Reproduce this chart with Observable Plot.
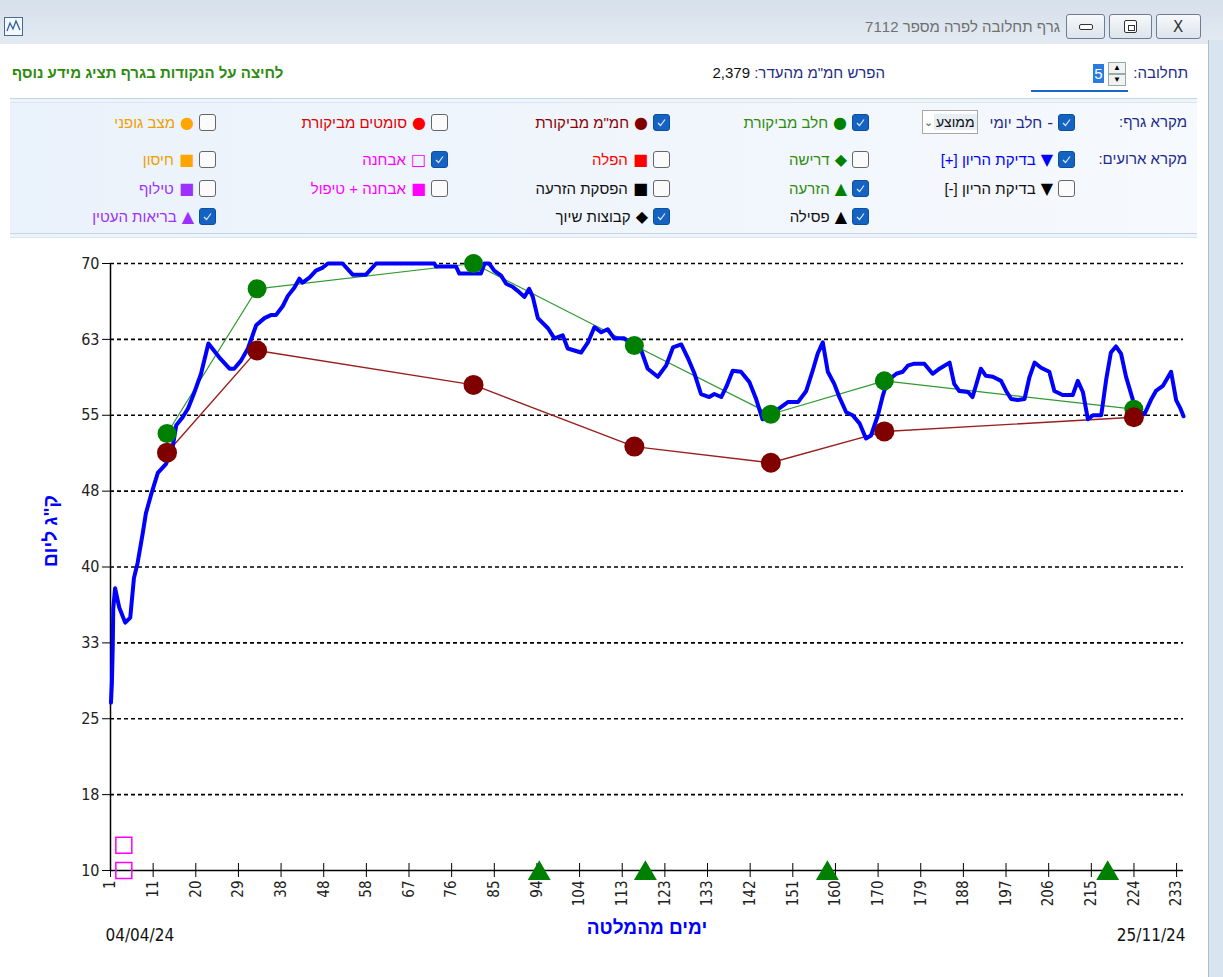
<!DOCTYPE html>
<html lang="he"><head><meta charset="utf-8">
<script src="https://cdn.jsdelivr.net/npm/d3@7"></script>
<script src="https://cdn.jsdelivr.net/npm/@observablehq/plot@0.6"></script>
<style>
body{margin:0;width:1223px;height:977px;position:relative;overflow:hidden;background:#fff;font-family:"Liberation Sans",Arial,sans-serif;}
.abs{position:absolute;white-space:nowrap;}
#titlebar{left:0;top:0;width:1223px;height:44px;background:linear-gradient(#d6e0eb,#e3eaf2);}
#rightframe{left:1208px;top:40px;width:15px;height:937px;background:#d8e4f0;border-left:1px solid #aebccb;}
.wbtn{top:14px;height:25px;border:1px solid #6e7d90;border-radius:3px;background:linear-gradient(#f7f9fb,#dde4ec);box-sizing:border-box;}
.sep{left:10px;width:1187px;height:3px;border-top:1px solid #c4d6ea;border-bottom:1px solid #d9e6f4;background:#eef4fa;}
#panel{left:10px;top:103px;width:1187px;height:131px;background:linear-gradient(90deg,#eaf2fb,#f6f9fd);}
.item{display:flex;flex-direction:row;direction:rtl;align-items:center;font-size:15px;height:20px;}
.cb{width:17px;height:17px;border-radius:3px;box-sizing:border-box;margin-left:5px;display:flex;align-items:center;justify-content:center;}
.cb.on{background:#1463c2;border:1px solid #0c4f9e;}
.cb.off{background:#fbfbfb;border:1px solid #666;}
.sym{font-family:"DejaVu Sans",sans-serif;font-size:16px;margin-left:5px;}
.lbl{font-size:15px;color:#1c2b8a;direction:rtl;}
</style></head>
<body>
<div id="titlebar" class="abs"></div>
<div class="abs" style="left:4px;top:17px;width:19px;height:19px;border:1px solid #4a6b8f;background:#f4f8fc;box-sizing:border-box;">
  <svg width="17" height="17"><polyline points="2,13 5,5 8,11 11,3 15,12" fill="none" stroke="#2d5fa0" stroke-width="1.3"/></svg>
</div>
<div class="abs" style="right:163px;top:18px;font-size:15px;color:#707070;direction:rtl;">גרף תחלובה לפרה מספר 7112</div>
<div class="abs wbtn" style="left:1066px;width:39px;"><div class="abs" style="left:12px;top:9px;width:14px;height:6px;border:1px solid #333;border-radius:2px;box-sizing:border-box;background:#fff;"></div></div>
<div class="abs wbtn" style="left:1109px;width:43px;"><div class="abs" style="left:14px;top:5px;width:13px;height:13px;border:1px solid #333;border-radius:2px;box-sizing:border-box;background:#fff;"><div class="abs" style="left:3px;top:4px;width:5px;height:4px;border:1px solid #333;"></div></div></div>
<div class="abs wbtn" style="left:1156px;width:45px;"><div class="abs" style="left:16px;top:3px;font-size:15px;color:#333;font-family:'DejaVu Sans',sans-serif;">X</div></div>
<div id="rightframe" class="abs"></div>

<div class="abs lbl" style="right:35px;top:64px;">תחלובה:</div>
<div class="abs" style="left:1031px;top:57px;width:97px;height:35px;background:#fff;border-bottom:2px solid #1d67c4;box-sizing:border-box;">
  <div class="abs" style="left:62px;top:7px;width:11px;height:19px;background:#2a7be0;color:#fff;font-size:15px;line-height:19px;text-align:center;">5</div>
  <div class="abs" style="left:77px;top:5px;width:18px;height:12px;border:1px solid #9aa;box-sizing:border-box;font-size:8px;line-height:10px;text-align:center;background:#f2f2f2;">▲</div>
  <div class="abs" style="left:77px;top:17px;width:18px;height:12px;border:1px solid #9aa;box-sizing:border-box;font-size:8px;line-height:10px;text-align:center;background:#f2f2f2;">▼</div>
</div>
<div class="abs" style="right:338px;top:64px;direction:rtl;font-size:15px;"><span class="lbl">הפרש חמ"מ מהעדר:</span> <span style="color:#111;">2,379</span></div>
<div class="abs" style="left:12px;top:64px;font-size:15px;font-weight:bold;color:#2e8b10;direction:rtl;">לחיצה על הנקודות בגרף תציג מידע נוסף</div>

<div class="abs sep" style="top:98px;"></div>
<div id="panel" class="abs"></div>
<div class="abs sep" style="top:233px;"></div>
<div id="legend"></div>
<div id="chart" class="abs" style="left:0;top:240px;"></div>

<script>
// ---------------- data ----------------
const dailyDay = [1.1,1.3,1.5,1.6,2.0,2.9,4.2,5.3,6.1,6.9,8.0,8.7,9.8,11.3,13.1,14.5,15.3,16.7,17.9,19.2,
  20.7,22.3,24.7,26.9,27.9,29.4,30.9,32.7,34.5,35.9,37.0,38.5,39.6,41.0,42.1,42.8,44.3,45.7,47.2,48.3,
  51.5,53.7,56.6,58.8,71.5,71.8,76.2,76.9,81.6,82.4,83.4,84.5,86.0,87.1,88.5,89.6,91.1,92.1,92.9,94.0,
  96.2,97.6,99.4,100.5,103.4,104.9,106.3,107.8,109.2,110.6,112.8,115.0,116.5,117.9,120.1,121.9,123.4,125.2,126.6,128.1,
  129.5,131.3,132.4,133.9,135.0,136.4,138.2,140.0,141.5,142.9,144.7,146.9,148.4,150.6,152.4,153.8,154.9,156.0,157.1,158.5,
  159.6,161.1,162.5,164.0,165.4,166.5,168.0,169.1,170.1,172.0,173.4,174.5,175.9,178.1,179.9,181.4,183.6,184.6,185.7,187.6,
  188.6,190.4,191.5,193.0,194.8,195.9,197.0,198.4,199.9,201.0,202.1,203.5,205.3,206.4,208.2,210.4,211.5,212.6,213.7,214.8,
  216.6,217.7,218.7,219.8,220.9,222.0,223.5,224.6,226.0,227.4,228.5,230.0,231.8,232.9,233.9,234.5];
const dailyMilk = [26.6,28.5,32.4,35.9,37.9,36.0,34.5,35.0,38.9,40.4,43.3,45.3,47.1,49.3,50.2,51.8,54.0,54.8,55.7,57.2,
  59.1,62.1,60.7,59.6,59.6,60.4,61.6,63.9,64.6,64.9,64.9,65.8,66.8,67.6,68.5,68.1,68.6,69.3,69.6,70.0,
  70.0,68.9,68.9,70.0,70.0,69.7,69.7,69.0,69.0,70.0,70.0,69.3,68.8,68.0,67.7,67.3,66.7,67.5,66.7,64.6,
  63.6,62.6,62.9,61.6,61.2,62.2,63.7,63.2,63.5,62.6,62.6,61.9,61.4,59.6,58.8,59.9,61.7,62.0,60.7,59.1,
  57.1,56.8,57.1,56.8,57.8,59.4,59.3,58.3,56.6,54.6,55.1,55.8,56.3,56.3,57.4,59.4,61.1,62.2,59.3,58.1,
  56.8,55.3,55.0,54.2,52.7,53.0,55.0,57.0,58.4,59.1,59.3,59.9,60.1,60.1,59.1,59.6,60.2,58.1,57.4,57.3,
  56.8,59.6,58.9,58.8,58.4,57.4,56.6,56.5,56.6,58.8,60.2,59.7,59.3,57.4,57.0,57.0,58.4,57.3,54.6,55.0,
  55.0,58.6,61.2,61.8,61.1,58.8,56.5,55.5,55.1,56.5,57.4,57.9,59.3,56.5,55.6,54.9];

const controlDay  = [13.3, 32.9, 80.0, 115.0, 144.7, 169.4, 223.7];
const controlMilk = [53.2, 67.5, 70.0, 61.9, 55.1, 58.4, 55.6];
const controlEcm  = [51.3, 61.4, 58.0, 51.9, 50.3, 53.4, 54.8];

const diagnosisDay = [3.9, 3.9];
const diagnosisY   = [10.0, 12.5];
const inseminationDay = [94.3, 117.4, 157.0, 218.0];

const xTickLabels = [1,11,20,29,38,48,58,67,76,85,94,104,113,123,133,142,151,160,170,179,188,197,206,215,224,233];
const yTicks = [10,17.5,25,32.5,40,47.5,55,62.5,70];
const yTickLabels = ["10","18","25","33","40","48","55","63","70"];

const yLabel = 'ק"ג ליום';
const xLabel = "ימים מהמלטה";
const startDate = "04/04/24";
const endDate = "25/11/24";

// legend items: col 0..4 (right to left), row 0..3
const legendItems = [
  {col:0,row:0,on:true, sym:"-", label:"חלב יומי", color:"#1c2b8a", symColor:"#1c2b8a", select:"ממוצע"},
  {col:1,row:0,on:true, sym:"●", label:"חלב מביקורת", color:"#2e8b10", symColor:"#008000"},
  {col:2,row:0,on:true, sym:"●", label:'חמ"מ מביקורת', color:"#8b0000", symColor:"#800000"},
  {col:3,row:0,on:false,sym:"●", label:"סומטים מביקורת", color:"#e00000", symColor:"#ff0000"},
  {col:4,row:0,on:false,sym:"●", label:"מצב גופני", color:"#f0a000", symColor:"#ffa500"},
  {col:0,row:1,on:true, sym:"▼", label:"בדיקת הריון [+]", color:"#0000ff", symColor:"#0000ff"},
  {col:1,row:1,on:false,sym:"◆", label:"דרישה", color:"#2e8b10", symColor:"#008000"},
  {col:2,row:1,on:false,sym:"■", label:"הפלה", color:"#ff0000", symColor:"#ff0000"},
  {col:3,row:1,on:true, sym:"□", label:"אבחנה", color:"#ff00ff", symColor:"#ff00ff"},
  {col:4,row:1,on:false,sym:"■", label:"חיסון", color:"#f0a000", symColor:"#ffa500"},
  {col:0,row:2,on:false,sym:"▼", label:"בדיקת הריון [-]", color:"#111", symColor:"#000"},
  {col:1,row:2,on:true, sym:"▲", label:"הזרעה", color:"#2e8b10", symColor:"#008000"},
  {col:2,row:2,on:false,sym:"■", label:"הפסקת הזרעה", color:"#111", symColor:"#000"},
  {col:3,row:2,on:false,sym:"■", label:"אבחנה + טיפול", color:"#ff00ff", symColor:"#ff00ff"},
  {col:4,row:2,on:false,sym:"■", label:"טילוף", color:"#9b30ff", symColor:"#9b30ff"},
  {col:1,row:3,on:true, sym:"▲", label:"פסילה", color:"#111", symColor:"#000"},
  {col:2,row:3,on:true, sym:"◆", label:"קבוצות שיוך", color:"#111", symColor:"#000"},
  {col:4,row:3,on:true, sym:"▲", label:"בריאות העטין", color:"#9b30ff", symColor:"#9b30ff"}
];
const legendRowLabels = ["מקרא גרף:", "מקרא ארועים:"];

// ---------------- legend (HTML) ----------------
const colRight = [1075, 869, 670, 448, 216];
const rowCenter = [122, 159, 188, 216];
const legend = document.getElementById("legend");
legendRowLabels.forEach((t, i) => {
  const d = document.createElement("div");
  d.className = "abs lbl";
  d.style.right = (1223 - 1187) + "px";
  d.style.top = (rowCenter[i] - 9) + "px";
  d.textContent = t;
  legend.appendChild(d);
});
legendItems.forEach(it => {
  const d = document.createElement("div");
  d.className = "abs item";
  d.style.right = (1223 - colRight[it.col]) + "px";
  d.style.top = (rowCenter[it.row] - 10) + "px";
  const cb = document.createElement("div");
  cb.className = "cb " + (it.on ? "on" : "off");
  if (it.on) cb.innerHTML = '<svg width="9" height="9"><polyline points="1,5 3.5,7.5 8,1.5" fill="none" stroke="#dfe9f7" stroke-width="1.2"/></svg>';
  d.appendChild(cb);
  const s = document.createElement("span");
  s.className = "sym";
  s.style.color = it.symColor;
  s.textContent = it.sym;
  d.appendChild(s);
  const l = document.createElement("span");
  l.style.color = it.color;
  l.textContent = it.label;
  d.appendChild(l);
  if (it.select) {
    const sel = document.createElement("span");
    sel.style.cssText = "margin-right:12px;height:24px;width:56px;border:1px solid #a8a8a8;background:#fff;display:flex;direction:rtl;align-items:center;font-size:14px;color:#111;box-sizing:border-box;";
    sel.innerHTML = '<span style="padding:0 2px;background:#e8eef6;">' + it.select + '</span><span style="width:18px;text-align:center;color:#555;font-size:11px;">&#8964;</span>';
    d.appendChild(sel);
  }
  legend.appendChild(d);
});

// ---------------- chart ----------------
const daily = dailyDay.map((d, i) => ({day: d, milk: dailyMilk[i]}));
const control = controlDay.map((d, i) => ({day: d, milk: controlMilk[i], ecm: controlEcm[i]}));
const diagnosis = diagnosisDay.map((d, i) => ({day: d, y: diagnosisY[i]}));
const insemination = inseminationDay.map(d => ({day: d, y: 10}));
const xTickPos = xTickLabels.map((_, i) => 1 + i * (232 / (xTickLabels.length - 1)));
const narrow = '"Liberation Sans Narrow","Arial Narrow","DejaVu Sans Condensed",sans-serif';

const chart = Plot.plot({
  width: 1208, height: 737,
  marginLeft: 110, marginRight: 25, marginTop: 23, marginBottom: 107,
  x: {domain: [1, 234.5]},
  y: {domain: [10, 70]},
  style: {fontFamily: narrow, background: "transparent", overflow: "visible"},
  marks: [
    Plot.gridY(yTicks.slice(1), {stroke: "#000", strokeOpacity: 1, strokeDasharray: "4,3", strokeWidth: 1.6}),
    Plot.ruleY([yTicks[0]], {stroke: "#000", strokeWidth: 1.5}),
    Plot.ruleX([1], {stroke: "#000", strokeWidth: 1.5}),
    Plot.axisY(yTicks, {tickSize: 8, tickPadding: 3, tickFormat: d => yTickLabels[yTicks.indexOf(d)], fontSize: 16, fill: "#222", stroke: "#000", label: null}),
    Plot.axisX(xTickPos, {tickSize: 7, tickPadding: 3, tickRotate: -90, tickFormat: d => String(xTickLabels[xTickPos.indexOf(d)]), fontSize: 15, fill: "#222", stroke: "#000", label: null}),
    Plot.axisX(xTickPos, {tickSize: -7, text: null, stroke: "#000", label: null}),
    Plot.line(control, {x: "day", y: "milk", stroke: "#2f9a2f", strokeWidth: 1.2}),
    Plot.line(control, {x: "day", y: "ecm", stroke: "#9a1f1f", strokeWidth: 1.4}),
    Plot.line(daily, {x: "day", y: "milk", stroke: "#0000ff", strokeWidth: 4}),
    Plot.dot(control, {x: "day", y: "milk", r: 9.5, fill: "#008000"}),
    Plot.dot(control, {x: "day", y: "ecm", r: 10, fill: "#800000"}),
    Plot.dot(diagnosis, {x: "day", y: "y", symbol: "square", r: 9, fill: "none", stroke: "#ff00ff", strokeWidth: 1.5}),
    Plot.dot(insemination, {x: "day", y: "y", symbol: "triangle", r: 8.5, fill: "#008000", dy: 3}),
    Plot.text([yLabel], {text: d => d, frameAnchor: "left", rotate: -90, dx: -60, fill: "#0000ff", fontWeight: "bold", fontSize: 19, fontFamily: "Liberation Sans, Arial, sans-serif"}),
    Plot.text([xLabel], {text: d => d, frameAnchor: "bottom", dy: 63, fill: "#0000ff", fontWeight: "bold", fontSize: 19, fontFamily: "Liberation Sans, Arial, sans-serif"}),
    Plot.text([startDate], {text: d => d, frameAnchor: "bottom-left", textAnchor: "start", dx: -5, dy: 70, fill: "#111", fontSize: 17}),
    Plot.text([endDate], {text: d => d, frameAnchor: "bottom-right", textAnchor: "end", dx: 2, dy: 70, fill: "#111", fontSize: 17})
  ]
});
document.getElementById("chart").appendChild(chart);
</script>
</body></html>
